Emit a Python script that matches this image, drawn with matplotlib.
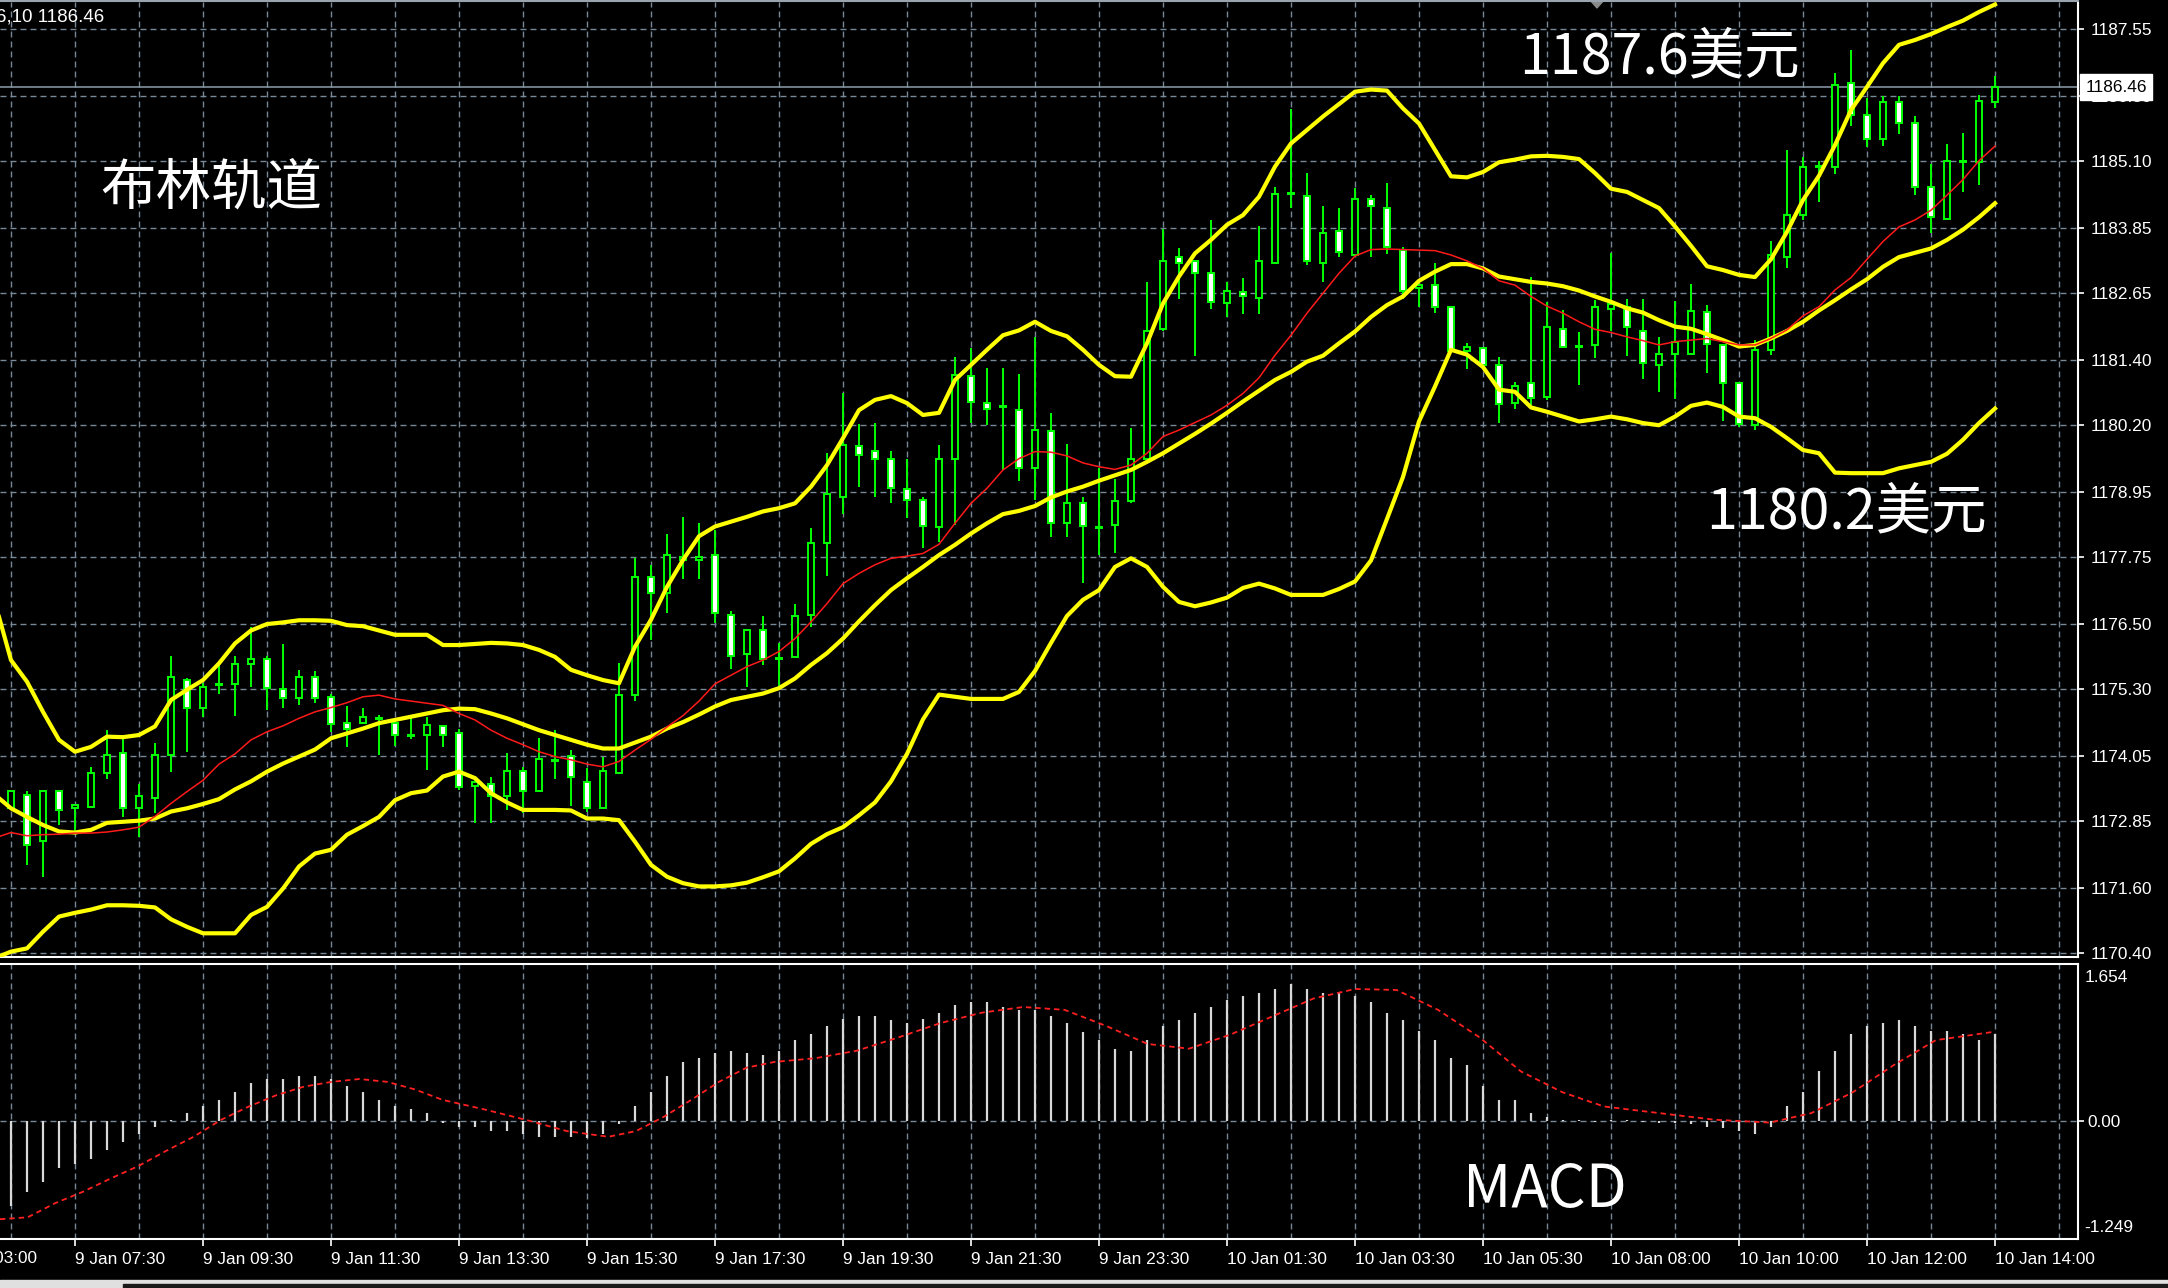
import numpy as np
import matplotlib
matplotlib.use("Agg")
import matplotlib.pyplot as plt
from matplotlib.patches import Polygon, Rectangle
import matplotlib.transforms as mtransforms

plt.rcParams['font.family'] = ['Liberation Sans', 'DejaVu Sans']

# ---------------- data (XAUUSD M15) ----------------
opens = [1173.08, 1173.33, 1172.48, 1173.40, 1173.08, 1173.11, 1173.74, 1174.10, 1173.08, 1173.27,
         1174.07, 1175.47, 1174.95, 1175.37, 1175.38, 1175.75, 1175.86, 1175.29, 1175.12, 1175.52,
         1175.15, 1174.66, 1174.67, 1174.74, 1174.67, 1174.44, 1174.44, 1174.61, 1174.48, 1173.49,
         1173.54, 1173.30, 1173.78, 1173.41, 1173.95, 1174.05, 1173.57, 1173.08, 1173.73, 1175.18,
         1177.38, 1177.07, 1177.69, 1177.68, 1177.78, 1176.67, 1175.94, 1176.38, 1175.87, 1175.89,
         1176.67, 1178.01, 1178.86, 1179.80, 1179.71, 1179.56, 1179.00, 1178.81, 1178.31, 1179.57,
         1181.10, 1180.60, 1180.53, 1180.48, 1179.39, 1180.09, 1178.38, 1178.75, 1178.29, 1178.34,
         1178.79, 1179.56, 1181.97, 1183.31, 1183.23, 1183.02, 1182.45, 1182.67, 1182.56, 1183.21,
         1184.48, 1184.45, 1183.21, 1183.79, 1183.35, 1184.39, 1184.23, 1183.44, 1182.73, 1182.79,
         1182.38, 1181.57, 1181.62, 1181.31, 1180.60, 1180.98, 1180.72, 1181.97, 1181.65, 1181.68,
         1182.35, 1182.39, 1181.94, 1181.31, 1181.52, 1181.52, 1182.30, 1181.68, 1180.98, 1180.19,
         1181.59, 1183.32, 1184.09, 1184.98, 1184.99, 1186.55, 1185.95, 1185.50, 1186.18, 1185.80,
         1184.62, 1184.01, 1185.07, 1185.08, 1186.18]
highs = [1173.42, 1173.40, 1173.42, 1173.42, 1173.15, 1173.85, 1174.53, 1174.44, 1173.54, 1174.30,
         1175.91, 1175.49, 1175.41, 1175.77, 1175.91, 1176.45, 1175.91, 1176.13, 1175.65, 1175.63,
         1175.20, 1174.97, 1174.94, 1174.81, 1174.69, 1174.78, 1174.78, 1174.63, 1174.56, 1173.61,
         1173.66, 1174.11, 1173.85, 1174.38, 1174.53, 1174.17, 1173.82, 1174.04, 1175.78, 1177.72,
         1177.60, 1178.17, 1178.49, 1178.38, 1178.25, 1176.75, 1176.39, 1176.65, 1176.15, 1176.87,
         1178.28, 1179.68, 1180.79, 1180.21, 1180.24, 1179.72, 1179.56, 1178.85, 1179.83, 1181.46,
         1181.62, 1181.25, 1181.25, 1181.14, 1181.82, 1180.42, 1179.84, 1178.86, 1179.39, 1179.20,
         1180.13, 1182.84, 1183.84, 1183.47, 1183.24, 1183.99, 1182.84, 1182.92, 1183.89, 1184.62,
         1186.05, 1184.88, 1184.25, 1184.22, 1184.59, 1184.46, 1184.69, 1183.50, 1182.82, 1183.21,
         1182.39, 1181.72, 1181.65, 1181.46, 1181.00, 1182.95, 1182.47, 1182.33, 1181.92, 1182.51,
         1183.38, 1182.53, 1182.53, 1181.83, 1182.49, 1182.81, 1182.42, 1181.70, 1180.98, 1181.77,
         1183.60, 1185.30, 1185.16, 1185.10, 1186.73, 1187.15, 1186.27, 1186.30, 1186.30, 1185.93,
         1185.04, 1185.41, 1185.62, 1186.32, 1186.67]
lows = [1173.06, 1172.03, 1171.80, 1172.77, 1172.62, 1173.10, 1173.62, 1172.91, 1172.55, 1172.99,
        1173.76, 1174.13, 1174.77, 1175.21, 1174.79, 1175.33, 1174.90, 1174.95, 1175.00, 1175.03,
        1174.50, 1174.21, 1174.64, 1174.07, 1174.24, 1174.37, 1173.80, 1174.22, 1173.42, 1172.81,
        1172.80, 1173.05, 1172.99, 1173.39, 1173.62, 1173.12, 1173.02, 1173.06, 1173.72, 1175.08,
        1176.20, 1176.70, 1177.33, 1177.33, 1176.51, 1175.66, 1175.33, 1175.74, 1175.35, 1175.88,
        1176.45, 1177.39, 1178.55, 1179.04, 1178.85, 1178.74, 1178.46, 1177.92, 1178.03, 1178.34,
        1180.24, 1180.19, 1179.36, 1179.16, 1178.81, 1178.12, 1178.12, 1177.27, 1177.78, 1177.82,
        1178.74, 1179.54, 1181.94, 1182.53, 1181.47, 1182.34, 1182.20, 1182.25, 1182.25, 1183.19,
        1184.23, 1183.16, 1182.85, 1183.32, 1183.33, 1183.31, 1183.37, 1182.53, 1182.38, 1182.27,
        1181.54, 1181.23, 1181.29, 1180.23, 1180.50, 1180.57, 1180.66, 1181.62, 1180.93, 1181.43,
        1181.93, 1181.47, 1181.04, 1180.81, 1180.68, 1181.51, 1181.15, 1180.26, 1180.16, 1180.11,
        1181.49, 1183.10, 1184.00, 1184.34, 1184.86, 1185.74, 1185.36, 1185.37, 1185.59, 1184.46,
        1183.76, 1184.00, 1184.52, 1184.65, 1186.07]
closes = [1173.41, 1172.40, 1173.41, 1173.04, 1173.14, 1173.74, 1174.07, 1173.08, 1173.30, 1174.07,
          1175.51, 1174.94, 1175.34, 1175.39, 1175.75, 1175.85, 1175.31, 1175.12, 1175.51, 1175.12,
          1174.64, 1174.56, 1174.78, 1174.75, 1174.44, 1174.42, 1174.63, 1174.44, 1173.48, 1173.56,
          1173.30, 1173.78, 1173.41, 1173.99, 1173.97, 1173.67, 1173.08, 1173.77, 1175.18, 1177.38,
          1177.07, 1177.78, 1177.75, 1177.74, 1176.70, 1175.91, 1176.38, 1175.86, 1175.86, 1176.64,
          1178.01, 1178.91, 1179.82, 1179.64, 1179.57, 1179.02, 1178.80, 1178.32, 1179.56, 1181.12,
          1180.63, 1180.50, 1180.53, 1179.39, 1180.11, 1178.38, 1178.75, 1178.32, 1178.31, 1178.79,
          1179.56, 1181.94, 1183.24, 1183.21, 1183.02, 1182.48, 1182.69, 1182.58, 1183.24, 1184.49,
          1184.49, 1183.24, 1183.76, 1183.41, 1184.39, 1184.25, 1183.50, 1182.69, 1182.79, 1182.39,
          1181.57, 1181.65, 1181.31, 1180.58, 1180.92, 1180.69, 1182.02, 1181.65, 1181.66, 1182.39,
          1182.44, 1182.02, 1181.35, 1181.52, 1181.74, 1182.31, 1181.70, 1180.98, 1180.22, 1181.59,
          1183.35, 1184.09, 1184.99, 1184.99, 1186.50, 1185.95, 1185.50, 1186.18, 1185.80, 1184.62,
          1184.06, 1185.09, 1185.09, 1186.21, 1186.46]

# Bollinger bands and red MA, one value per bar starting at bar -1
boll_upper = [1176.90,
              1175.83, 1175.43, 1174.87, 1174.35, 1174.13, 1174.22, 1174.41, 1174.40, 1174.44, 1174.60,
              1175.09, 1175.28, 1175.46, 1175.77, 1176.14, 1176.38, 1176.50, 1176.53, 1176.57, 1176.57,
              1176.56, 1176.48, 1176.46, 1176.38, 1176.30, 1176.30, 1176.30, 1176.11, 1176.11, 1176.13,
              1176.15, 1176.14, 1176.11, 1176.02, 1175.89, 1175.65, 1175.55, 1175.46, 1175.40, 1176.08,
              1176.58, 1177.19, 1177.69, 1178.13, 1178.31, 1178.40, 1178.49, 1178.59, 1178.65, 1178.74,
              1179.05, 1179.45, 1179.95, 1180.47, 1180.66, 1180.73, 1180.60, 1180.38, 1180.42, 1181.03,
              1181.31, 1181.59, 1181.86, 1181.95, 1182.11, 1181.94, 1181.84, 1181.59, 1181.31, 1181.10,
              1181.09, 1181.71, 1182.45, 1182.95, 1183.38, 1183.63, 1183.91, 1184.09, 1184.43, 1184.99,
              1185.42, 1185.67, 1185.92, 1186.15, 1186.38, 1186.42, 1186.40, 1186.07, 1185.79, 1185.30,
              1184.81, 1184.79, 1184.89, 1185.07, 1185.12, 1185.18, 1185.19, 1185.17, 1185.13, 1184.87,
              1184.58, 1184.52, 1184.37, 1184.22, 1183.88, 1183.52, 1183.14, 1183.07, 1182.98, 1182.94,
              1183.27, 1183.78, 1184.37, 1184.82, 1185.39, 1186.04, 1186.47, 1186.91, 1187.25, 1187.34,
              1187.45, 1187.58, 1187.70, 1187.86, 1188.00]
boll_mid = [1173.33,
            1173.08, 1172.92, 1172.77, 1172.65, 1172.63, 1172.68, 1172.81, 1172.83, 1172.85, 1172.89,
            1173.02, 1173.08, 1173.16, 1173.25, 1173.43, 1173.58, 1173.76, 1173.91, 1174.04, 1174.17,
            1174.38, 1174.47, 1174.56, 1174.66, 1174.72, 1174.78, 1174.84, 1174.90, 1174.93, 1174.92,
            1174.84, 1174.75, 1174.64, 1174.53, 1174.44, 1174.35, 1174.26, 1174.19, 1174.19, 1174.30,
            1174.41, 1174.56, 1174.68, 1174.82, 1174.97, 1175.09, 1175.15, 1175.21, 1175.31, 1175.49,
            1175.74, 1175.96, 1176.23, 1176.55, 1176.85, 1177.13, 1177.35, 1177.56, 1177.78, 1177.97,
            1178.18, 1178.37, 1178.54, 1178.60, 1178.69, 1178.85, 1178.96, 1179.05, 1179.16, 1179.26,
            1179.36, 1179.51, 1179.67, 1179.85, 1180.03, 1180.22, 1180.42, 1180.63, 1180.83, 1181.03,
            1181.18, 1181.37, 1181.48, 1181.71, 1181.93, 1182.20, 1182.42, 1182.58, 1182.87, 1183.04,
            1183.18, 1183.18, 1183.10, 1182.95, 1182.90, 1182.85, 1182.82, 1182.77, 1182.69, 1182.58,
            1182.48, 1182.36, 1182.28, 1182.14, 1182.02, 1181.98, 1181.88, 1181.77, 1181.65, 1181.68,
            1181.80, 1181.94, 1182.11, 1182.32, 1182.51, 1182.71, 1182.90, 1183.13, 1183.31, 1183.39,
            1183.47, 1183.63, 1183.82, 1184.05, 1184.31]
boll_lower = [1170.30,
              1170.42, 1170.48, 1170.79, 1171.07, 1171.14, 1171.20, 1171.28, 1171.28, 1171.27, 1171.24,
              1171.02, 1170.88, 1170.76, 1170.76, 1170.76, 1171.10, 1171.25, 1171.59, 1172.00, 1172.24,
              1172.31, 1172.59, 1172.75, 1172.92, 1173.23, 1173.36, 1173.41, 1173.67, 1173.76, 1173.64,
              1173.36, 1173.19, 1173.05, 1173.05, 1173.05, 1173.04, 1172.89, 1172.89, 1172.86, 1172.46,
              1172.03, 1171.81, 1171.69, 1171.63, 1171.63, 1171.65, 1171.70, 1171.80, 1171.91, 1172.15,
              1172.42, 1172.60, 1172.73, 1172.95, 1173.19, 1173.58, 1174.09, 1174.73, 1175.19, 1175.15,
              1175.11, 1175.11, 1175.11, 1175.24, 1175.63, 1176.15, 1176.65, 1176.95, 1177.13, 1177.56,
              1177.72, 1177.56, 1177.19, 1176.91, 1176.83, 1176.90, 1176.99, 1177.17, 1177.25, 1177.16,
              1177.04, 1177.04, 1177.04, 1177.15, 1177.29, 1177.68, 1178.45, 1179.23, 1180.26, 1180.91,
              1181.59, 1181.50, 1181.27, 1180.85, 1180.81, 1180.52, 1180.44, 1180.35, 1180.26, 1180.30,
              1180.35, 1180.30, 1180.23, 1180.19, 1180.35, 1180.55, 1180.61, 1180.53, 1180.35, 1180.32,
              1180.16, 1179.95, 1179.73, 1179.67, 1179.31, 1179.30, 1179.30, 1179.30, 1179.39, 1179.45,
              1179.51, 1179.66, 1179.92, 1180.23, 1180.50]
ma_red = [1172.53,
          1172.63, 1172.57, 1172.59, 1172.60, 1172.62, 1172.62, 1172.64, 1172.68, 1172.73, 1172.93,
          1173.17, 1173.39, 1173.60, 1173.90, 1174.09, 1174.35, 1174.50, 1174.61, 1174.75, 1174.87,
          1174.95, 1175.04, 1175.15, 1175.18, 1175.11, 1175.07, 1175.03, 1174.99, 1174.84, 1174.72,
          1174.53, 1174.38, 1174.26, 1174.13, 1174.04, 1173.98, 1173.90, 1173.85, 1173.95, 1174.16,
          1174.36, 1174.59, 1174.80, 1175.07, 1175.39, 1175.55, 1175.71, 1175.83, 1175.99, 1176.23,
          1176.54, 1176.88, 1177.25, 1177.44, 1177.60, 1177.72, 1177.76, 1177.81, 1177.98, 1178.37,
          1178.74, 1179.02, 1179.36, 1179.57, 1179.70, 1179.69, 1179.62, 1179.49, 1179.42, 1179.37,
          1179.45, 1179.67, 1179.98, 1180.10, 1180.24, 1180.38, 1180.56, 1180.78, 1181.07, 1181.49,
          1181.86, 1182.27, 1182.64, 1183.01, 1183.33, 1183.45, 1183.46, 1183.45, 1183.44, 1183.43,
          1183.35, 1183.24, 1183.10, 1182.87, 1182.79, 1182.58, 1182.40, 1182.27, 1182.11, 1181.97,
          1181.91, 1181.83, 1181.76, 1181.68, 1181.74, 1181.77, 1181.80, 1181.74, 1181.68, 1181.68,
          1181.80, 1181.96, 1182.22, 1182.39, 1182.70, 1182.93, 1183.27, 1183.60, 1183.87, 1184.00,
          1184.18, 1184.46, 1184.75, 1185.10, 1185.37]

# MACD histogram, one value per bar
macd_hist = [-0.90, -0.75, -0.65, -0.50, -0.46, -0.40, -0.31, -0.23, -0.14, -0.07,
             0.01, 0.08, 0.15, 0.22, 0.30, 0.40, 0.44, 0.44, 0.47, 0.47,
             0.44, 0.37, 0.30, 0.22, 0.15, 0.12, 0.08, -0.02, -0.07, -0.07,
             -0.11, -0.11, -0.14, -0.17, -0.17, -0.17, -0.18, -0.14, -0.04, 0.15,
             0.30, 0.47, 0.62, 0.66, 0.71, 0.74, 0.71, 0.69, 0.74, 0.85,
             0.91, 1.00, 1.07, 1.10, 1.10, 1.06, 1.03, 1.07, 1.14, 1.22,
             1.25, 1.25, 1.20, 1.17, 1.17, 1.10, 1.03, 0.94, 0.85, 0.76,
             0.74, 0.85, 1.00, 1.06, 1.14, 1.20, 1.27, 1.32, 1.35, 1.39,
             1.44, 1.39, 1.35, 1.35, 1.32, 1.25, 1.14, 1.06, 0.95, 0.85,
             0.66, 0.59, 0.37, 0.22, 0.22, 0.08, 0.04, 0.01, 0.01, -0.01,
             0.01, 0.01, -0.01, -0.02, -0.02, -0.04, -0.07, -0.08, -0.11, -0.14,
             -0.07, 0.15, 0.30, 0.52, 0.74, 0.91, 1.00, 1.03, 1.06, 1.00,
             0.95, 0.95, 0.91, 0.85, 0.91]
# MACD signal line, read at these bar positions
signal_bars = [-0.69, 1.04, 2.77, 4.50, 6.23, 7.95, 9.68, 11.41, 13.14, 14.87, 16.60, 18.32, 20.05,
               21.78, 23.51, 25.24, 26.97, 29.56, 32.15, 34.74, 37.34, 39.06, 40.79, 42.52, 44.25,
               45.98, 47.71, 50.30, 52.89, 55.48, 58.08, 60.67, 63.26, 65.85, 68.45, 71.04, 73.63,
               76.23, 78.82, 81.41, 84.00, 86.60, 89.19, 91.78, 94.37, 96.97, 99.56, 103.02, 106.47,
               109.93, 112.52, 115.11, 117.70, 120.30, 124.0]
signal_vals = [-1.04, -1.02, -0.87, -0.75, -0.61, -0.48, -0.32, -0.17, 0.01, 0.15, 0.27, 0.36, 0.41,
               0.44, 0.41, 0.33, 0.22, 0.12, 0.01, -0.11, -0.17, -0.11, 0.04, 0.22, 0.41,
               0.56, 0.62, 0.66, 0.74, 0.88, 1.03, 1.14, 1.20, 1.17, 1.00, 0.81, 0.76,
               0.91, 1.10, 1.29, 1.39, 1.38, 1.17, 0.88, 0.52, 0.30, 0.15, 0.08, 0.01,
               -0.02, 0.08, 0.30, 0.59, 0.85, 0.94]

price_labels = ["1170.40", "1171.60", "1172.85", "1174.05", "1175.30", "1176.50", "1177.75",
                "1178.95", "1180.20", "1181.40", "1182.65", "1183.85", "1185.10", "1186.30", "1187.55"]
time_labels = ["9 Jan 07:30", "9 Jan 09:30", "9 Jan 11:30", "9 Jan 13:30", "9 Jan 15:30",
               "9 Jan 17:30", "9 Jan 19:30", "9 Jan 21:30", "9 Jan 23:30", "10 Jan 01:30",
               "10 Jan 03:30", "10 Jan 05:30", "10 Jan 08:00", "10 Jan 10:00", "10 Jan 12:00",
               "10 Jan 14:00"]
macd_top, macd_bottom = 1.654, -1.249

# ---------------- figure ----------------
W, H = 2168, 1288
fig = plt.figure(figsize=(W / 100, H / 100), dpi=100, facecolor='black')

o = np.array(opens); hi = np.array(highs); lo = np.array(lows); c = np.array(closes)
bars = np.arange(len(o))
line_x = np.arange(-1, len(o))

GREEN = '#00ff00'
GRID = '#778899'
xmin, xmax = -11 / 16, (2078 - 11) / 16

ax1 = fig.add_axes([0, 1 - 957 / H, 2078 / W, 955 / H], facecolor='black')
ax2 = fig.add_axes([0, 1 - 1239 / H, 2078 / W, 275 / H], facecolor='black')

price_ticks = [float(s) for s in price_labels]
for ax in (ax1, ax2):
    ax.set_xlim(xmin, xmax)
    for gx in range(0, 129, 4):
        ax.axvline(gx, color=GRID, lw=1.0, dashes=(4.3, 2.9), zorder=1)
    for sp in ax.spines.values():
        sp.set_color('white')
        sp.set_linewidth(1.5)
    ax.spines['left'].set_visible(False)

ax1.set_ylim(1170.32, 1188.045)
for p in price_ticks:
    ax1.axhline(p, color=GRID, lw=1.0, dashes=(4.3, 2.9), zorder=1)
ax1.spines['top'].set_visible(False)

# candles
ax1.vlines(bars, lo, hi, colors=GREEN, lw=1.4, zorder=3)
face = np.where(c >= o, 'black', 'white')
body = np.maximum(np.abs(c - o), 0.012)
ax1.bar(bars, body, bottom=np.minimum(o, c), width=0.42, color=face,
        edgecolor=GREEN, linewidth=1.4, zorder=4)

# indicators
for band in (boll_upper, boll_mid, boll_lower):
    ax1.plot(line_x, band, color='#ffff00', lw=3.0, zorder=5, solid_joinstyle='round')
ax1.plot(line_x, ma_red, color='#ff1a1a', lw=1.1, zorder=6)

# current price line and box
ax1.axhline(c[-1], color='#8c9cac', lw=1.1, zorder=2)
trans1 = mtransforms.blended_transform_factory(ax1.transAxes, ax1.transData)
ax1.text(1.0035, c[-1], f"{c[-1]:.2f}", transform=trans1, ha='left', va='center',
         fontsize=12.4, color='black', clip_on=False, zorder=20,
         bbox=dict(boxstyle='square,pad=0.32', fc='white', ec='white'))

ax1.yaxis.tick_right()
ax1.set_yticks(price_ticks)
ax1.set_yticklabels(price_labels)
ax1.tick_params(axis='y', colors='white', labelcolor='white', length=4, width=1.2,
                pad=5, labelsize=12.4)
ax1.set_xticks([])

# MACD panel
ax2.set_ylim(macd_bottom, macd_top)
ax2.axhline(0, color=GRID, lw=1.0, dashes=(4.3, 2.9), zorder=1)
ax2.vlines(bars, 0, macd_hist, colors='#d8d8d8', lw=1.6, zorder=3)
ax2.plot(signal_bars, signal_vals, color='#ff2020', lw=1.3, dashes=(3, 2.2), zorder=4)

ax2.yaxis.tick_right()
ax2.set_yticks([0.0])
ax2.set_yticklabels(["0.00"])
ax2.tick_params(axis='y', colors='white', labelcolor='white', length=4, width=1.2,
                pad=3, labelsize=12.4)
ax2.text(1.003, 1 - 14 / 275, f"{macd_top:.3f}", transform=ax2.transAxes, ha='left',
         va='center', fontsize=12.4, color='white', clip_on=False)
ax2.text(1.003, 12 / 275, f"{macd_bottom:.3f}", transform=ax2.transAxes, ha='left',
         va='center', fontsize=12.4, color='white', clip_on=False)

tick_bars = list(range(4, 125, 8))
ax2.set_xticks(tick_bars)
ax2.set_xticklabels(time_labels)
ax2.tick_params(axis='x', colors='white', labelcolor='white', length=5, width=1.2,
                pad=4, labelsize=12.4)
for lab in ax2.get_xticklabels():
    lab.set_horizontalalignment('left')
ax2.text(-4, -0.045, "9 Jan 03:00", transform=ax2.get_xaxis_transform(), ha='left',
         va='top', fontsize=12.4, color='white', clip_on=False)

# ---------------- annotations ----------------
def fx(x):
    return x / W


def fy(y):
    return 1 - y / H


cjk = ['Noto Sans CJK SC', 'DejaVu Sans']
fig.text(fx(100), fy(189), "布林轨道", family=cjk, fontsize=40, color='white', ha='left', va='center')
fig.text(fx(1519), fy(58), "1187.6美元", family=cjk, fontsize=40, color='white', ha='left', va='center')
fig.text(fx(1706), fy(513), "1180.2美元", family=cjk, fontsize=40, color='white', ha='left', va='center')
fig.text(fx(1463), fy(1190), "MACD", family=cjk, fontsize=43, color='white', ha='left', va='center')
fig.text(fx(-4), fy(17), "6,10 1186.46", fontsize=13.5, color='white', ha='left', va='center')

# frame bits
fig.add_artist(plt.Line2D([0, 2078 / W], [fy(1), fy(1)], color='#9aa4ae', lw=1.5))
fig.add_artist(Polygon([[fx(1590), fy(0)], [fx(1604), fy(0)], [fx(1597), fy(8)]],
                       closed=True, color='#8a8a8a'))
fig.add_artist(Rectangle((0, 0), 1, 8 / H, color='#e0e0e0'))
fig.add_artist(Rectangle((fx(123), 0), 1, 4 / H, color='#1a1a1a'))

fig.savefig("out.png", dpi=100, facecolor='black')
